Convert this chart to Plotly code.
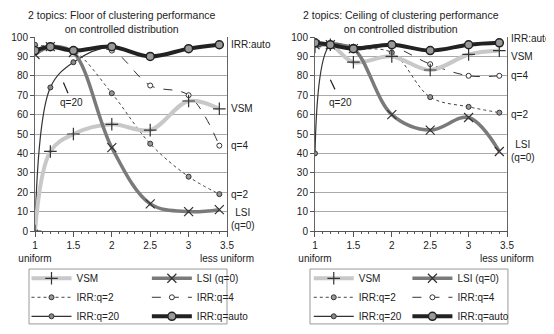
import plotly.graph_objects as go

# skewness of the topic distribution (x axis)
x_vals = [1, 1.2, 1.5, 2, 2.5, 3, 3.4]

# Floor of clustering performance (left panel)
floor_vsm = [0, 41, 50, 55, 52, 67, 63]
floor_lsi = [91, 95, 92, 43, 14, 10, 11]
floor_q2 = [96, 95, 93, 71, 45, 28, 19]
floor_q4 = [93, 95, 93, 93, 75, 70, 44]
floor_q20 = [0, 74, 87, 95, 90, 94, 96]
floor_auto = [93, 95, 93, 95, 90, 94, 96]

# Ceiling of clustering performance (right panel)
ceil_vsm = [95, 96, 87, 90, 83, 91, 93]
ceil_lsi = [96, 96, 94, 60, 52, 58.5, 41]
ceil_q2 = [97, 96, 94, 92, 69, 64, 61]
ceil_q4 = [97, 96, 95, 95, 86, 80, 80]
ceil_q20 = [40, 96, 95, 96, 93, 96, 97]
ceil_auto = [97, 96, 94, 96, 93, 96, 97]

x_ticks = [1, 1.5, 2, 2.5, 3, 3.5]
x_ticktext = ["1<br>uniform", "1.5", "2", "2.5", "3", "3.5<br>less uniform"]

FONT = "Liberation Sans, Arial, sans-serif"

styles = {
    "VSM": dict(line=dict(color="#c8c8c8", width=4),
                marker=dict(symbol="cross-thin", size=9, line=dict(color="#333", width=1.2))),
    "LSI (q=0)": dict(line=dict(color="#7a7a7a", width=3.5),
                      marker=dict(symbol="x-thin", size=9, line=dict(color="#333", width=1.2))),
    "IRR:q=2": dict(line=dict(color="#444", width=1, dash="dot"),
                    marker=dict(symbol="circle", size=5, color="#999", line=dict(color="#333", width=1))),
    "IRR:q=4": dict(line=dict(color="#333", width=1, dash="dash"),
                    marker=dict(symbol="circle", size=5, color="white", line=dict(color="#333", width=1))),
    "IRR:q=20": dict(line=dict(color="#333", width=1.2),
                     marker=dict(symbol="circle", size=5, color="#888", line=dict(color="#333", width=1))),
    "IRR:q=auto": dict(line=dict(color="#222", width=4),
                       marker=dict(symbol="circle", size=8, color="#999", line=dict(color="#222", width=1.5))),
}

fig = go.Figure()

panels = [
    ("x", "y", [floor_vsm, floor_lsi, floor_q2, floor_q4, floor_q20, floor_auto], ("legend", "legend2")),
    ("x2", "y2", [ceil_vsm, ceil_lsi, ceil_q2, ceil_q4, ceil_q20, ceil_auto], ("legend3", "legend4")),
]
names = ["VSM", "LSI (q=0)", "IRR:q=2", "IRR:q=4", "IRR:q=20", "IRR:q=auto"]
# left legend column: VSM, q=2, q=20 ; right column: LSI, q=4, q=auto
draw_order = [4, 2, 3, 0, 1, 5]

for xa, ya, series, (lg_a, lg_b) in panels:
    for i in draw_order:
        fig.add_trace(go.Scatter(
            x=x_vals, y=series[i], name=names[i], mode="lines+markers",
            line_shape="spline", xaxis=xa, yaxis=ya,
            legend=lg_a if i % 2 == 0 else lg_b,
            legendrank=i, **styles[names[i]]))

axis_x = dict(range=[1, 3.5], tickvals=x_ticks, ticktext=x_ticktext, ticks="outside",
              ticklen=5, tickcolor="#555", showgrid=False, showline=True, linecolor="#555",
              zeroline=False, tickfont=dict(size=10, color="#222"),
              minor=dict(dtick=0.1, ticks="outside", ticklen=2, tickcolor="#555"))
axis_y = dict(range=[0, 100], dtick=10, ticks="outside", ticklen=4, tickcolor="#555",
              showgrid=True, gridcolor="#aaaaaa", gridwidth=1, showline=True, linecolor="#666",
              mirror=True, zeroline=False, tickfont=dict(size=10, color="#222"))

legend_common = dict(orientation="v", yanchor="top", y=-0.169, xanchor="left",
                     bgcolor="rgba(0,0,0,0)", itemwidth=40, tracegroupgap=0,
                     font=dict(family=FONT, size=10, color="#222"))

# the page body adds an 8px offset, so the figure is 8px smaller than the window
fig.update_layout(
    width=546, height=326,
    margin=dict(l=27, r=47, t=29, b=103, autoexpand=False),
    paper_bgcolor="white", plot_bgcolor="white",
    font=dict(family=FONT, size=10, color="#222"),
    xaxis=dict(domain=[0, 0.4068], **axis_x),
    xaxis2=dict(domain=[0.5932, 1], **axis_x),
    yaxis=dict(anchor="x", **axis_y),
    yaxis2=dict(anchor="x2", **axis_y),
    legend=dict(x=-0.018, **legend_common),
    legend2=dict(x=0.237, **legend_common),
    legend3=dict(x=0.58, **legend_common),
    legend4=dict(x=0.789, **legend_common),
    showlegend=True,
)

# legend frames
for x0, x1 in [(-0.0127, 0.4068), (0.5826, 1.002)]:
    fig.add_shape(type="rect", xref="paper", yref="paper", x0=x0, x1=x1, y0=-0.479, y1=-0.196,
                  line=dict(color="#999", width=1))

titles = [("x domain", "y domain", "2 topics: Floor of clustering performance<br>on controlled distribution"),
          ("x2 domain", "y2 domain", "2 topics: Ceiling of clustering performance<br>on controlled distribution")]
for xr, yr, t in titles:
    fig.add_annotation(xref=xr, yref=yr, x=0.45, y=1.0, text=t, showarrow=False,
                       yanchor="bottom", font=dict(size=10.5, color="#222"))

# series labels at the right of each panel
labels_left = [("IRR:auto", 96), ("VSM", 63), ("q=4", 44), ("q=2", 19), ("LSI<br>(q=0)", 6)]
labels_right = [("IRR:auto", 99), ("VSM", 90), ("q=4", 80), ("q=2", 60), ("LSI<br>(q=0)", 41)]
for xr, ya, labels in [("x domain", "y", labels_left), ("x2 domain", "y2", labels_right)]:
    for text, yv in labels:
        fig.add_annotation(xref=xr, yref=ya, x=1.01, y=yv, text=text, showarrow=False,
                           xanchor="left", align="center", font=dict(size=10, color="#222"))

# q=20 labels with small pointer lines
for xa, ya, tx, ty, p in [("x", "y", 1.47, 66, (1.37, 76.5, 1.43, 71)),
                          ("x2", "y2", 1.33, 66, (1.2, 78, 1.26, 73))]:
    fig.add_annotation(xref=xa, yref=ya, x=tx, y=ty, text="q=20", showarrow=False,
                       font=dict(size=10, color="#222"))
    fig.add_shape(type="line", xref=xa, yref=ya, x0=p[0], y0=p[1], x1=p[2], y1=p[3],
                  line=dict(color="#222", width=1.2))

fig.write_html("out.html")
